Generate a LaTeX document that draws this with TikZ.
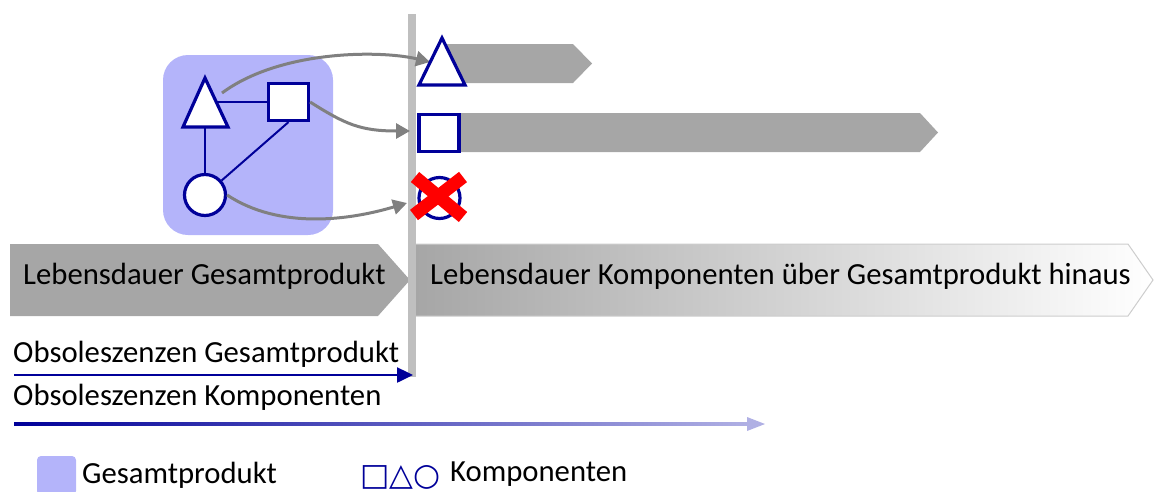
\documentclass[tikz,border=0pt]{standalone}
\usepackage{fontspec}
\setmainfont{Carlito}
\newfontfamily\symfont{DejaVu Sans}
\usetikzlibrary{arrows.meta}
\definecolor{dblue}{RGB}{0,0,153}
\definecolor{lblue}{RGB}{180,180,250}
\definecolor{pgray}{RGB}{166,166,166}
\definecolor{bgray}{RGB}{191,191,191}
\definecolor{agray}{RGB}{128,128,128}
\definecolor{fblue}{RGB}{176,176,228}
\definecolor{edgegray}{RGB}{205,205,205}
\begin{document}
\begin{tikzpicture}[x=1pt,y=-1pt,
  shp/.style={draw=dblue, line width=3.2pt, fill=white, inner sep=0pt},
  sqshape/.style={shp, minimum width=40pt, minimum height=37pt},
  cishape/.style={shp, circle, minimum size=41pt},
  link/.style={draw=dblue, line width=2pt},
  garrow/.style={draw=agray, line width=3pt, -{Triangle[length=14pt,width=15pt]}},
  lbl/.style={font=\fontsize{30.7}{36}\selectfont, inner sep=0pt, text=black},
  barpent/.style={fill=pgray},
  crossline/.style={draw=red, line width=13pt}
]
\useasboundingbox (0,0) rectangle (1156,491);

% product box
\fill[lblue, rounded corners=25pt] (163,55) rectangle (333,235);

% phase arrows
\fill[barpent] (10,244) -- (378,244) -- (410,280) -- (378,316) -- (10,316) -- cycle;
\shade[left color=pgray, right color=white, draw=edgegray, line width=1pt]
  (414,244) -- (1128,244) -- (1153,280) -- (1128,316) -- (414,316) -- cycle;
\node[lbl, anchor=base west] (lg) at (23,284) {Lebensdauer Gesamtprodukt};
\node[lbl, anchor=base west] (lk) at (430,284) {Lebensdauer Komponenten über Gesamtprodukt hinaus};

% component life bars
\fill[barpent] (440,44) -- (573,44) -- (592,63.5) -- (573,83) -- (440,83) -- cycle;
\fill[barpent] (440,113) -- (920,113) -- (938,132.5) -- (920,152) -- (440,152) -- cycle;

% vertical end-of-life bar
\fill[bgray] (408,14) rectangle (416,377);

% components inside product
\draw[shp, line join=miter] (183,127) -- (205,78) -- (228,127) -- cycle;
\coordinate (tA) at (216,102);
\coordinate (tB) at (205,127);
\coordinate (tC) at (222,93);
\node[sqshape] (sq) at (288.5,102) {};
\node[cishape] (ci) at (205,195) {};
\draw[link] (tA) -- (sq.west);
\draw[link] (tB) -- (ci.north);
\draw[link] (ci) -- (sq.south);

% transfer arrows
\coordinate (t2) at (430,62);
\coordinate (s2w) at (410,131);
\coordinate (c2w) at (407,203);
\draw[garrow] (tC) .. controls (280,50) and (380,50) .. (t2);
\draw[garrow] (sq.east) .. controls (345,124) and (360,131) .. (s2w);
\draw[garrow] (ci.east) .. controls (280,230) and (350,220) .. (c2w);

% components after product
\draw[shp, line join=miter] (419,85) -- (442,38) -- (465,85) -- cycle;
\node[sqshape] (sq2) at (439,133) {};
\node[cishape] (ci2) at (439.5,198) {};
\coordinate (xa) at (415,177);
\coordinate (xb) at (463,217);
\coordinate (xc) at (463,177);
\coordinate (xd) at (414,215);
\draw[crossline] (xa) -- (xb);
\draw[crossline] (xc) -- (xd);

% obsolescence arrows
\node[lbl, anchor=base west] (og) at (13,362) {Obsoleszenzen Gesamtprodukt};
\coordinate (og0) at (14,375);
\coordinate (og1) at (413,375);
\draw[draw=dblue, line width=2.5pt, -{Triangle[length=16pt,width=15pt]}] (og0) -- (og1);
\node[lbl, anchor=base west] (ok) at (13,405) {Obsoleszenzen Komponenten};
\coordinate (ok0) at (14,424);
\coordinate (ok1) at (765,424);
\shade[left color=dblue, right color=fblue] (14,422.7) rectangle (750,425.3);
\fill[fblue] (747,417) -- (ok1) -- (747,431) -- cycle;

% legend
\fill[lblue, rounded corners=4pt] (37,456) rectangle (76,495);
\node[lbl, anchor=base west] (lgp) at (82,483) {Gesamtprodukt};
\node[font=\symfont\fontsize{31}{36}\selectfont, text=dblue, inner sep=0pt, anchor=base west] (lsym) at (360,485) {□△○};
\node[lbl, anchor=base west] (lkp) at (450,481) {Komponenten};
\end{tikzpicture}
\end{document}
